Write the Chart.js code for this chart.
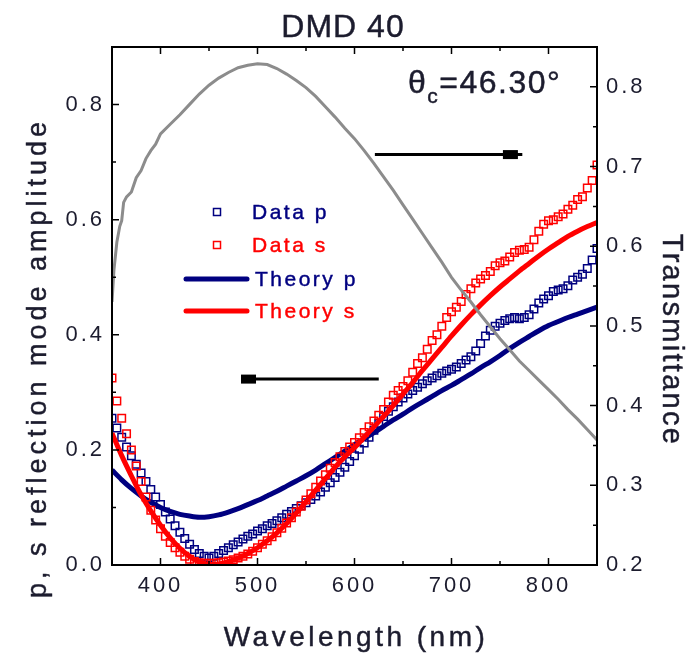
<!DOCTYPE html>
<html><head><meta charset="utf-8">
<script src="https://cdn.jsdelivr.net/npm/chart.js@4.4.1/dist/chart.umd.min.js"></script>
<style>html,body{margin:0;padding:0;background:#fff}</style>
</head><body>
<canvas id="c" width="691" height="657"></canvas>
<script>
// ---------- DATA ----------
const wavelengths5 = [350,355,360,365,370,375,380,385,390,395,400,405,410,415,420,425,430,435,440,445,450,455,460,465,470,475,480,485,490,495,500,505,510,515,520,525,530,535,540,545,550,555,560,565,570,575,580,585,590,595,600,605,610,615,620,625,630,635,640,645,650,655,660,665,670,675,680,685,690,695,700,705,710,715,720,725,730,735,740,745,750,755,760,765,770,775,780,785,790,795,800,805,810,815,820,825,830,835,840,845,850];
const dataP = [0.255,0.238,0.222,0.205,0.19,0.175,0.16,0.145,0.131,0.118,0.105,0.092,0.08,0.068,0.057,0.046,0.036,0.027,0.02,0.015,0.012,0.015,0.02,0.025,0.03,0.035,0.04,0.045,0.05,0.054,0.059,0.063,0.068,0.072,0.077,0.082,0.088,0.093,0.098,0.103,0.108,0.114,0.12,0.127,0.135,0.143,0.152,0.161,0.17,0.18,0.19,0.201,0.212,0.222,0.234,0.246,0.258,0.267,0.275,0.283,0.29,0.297,0.303,0.309,0.315,0.32,0.325,0.329,0.333,0.337,0.34,0.344,0.35,0.356,0.362,0.372,0.385,0.398,0.408,0.415,0.42,0.425,0.428,0.43,0.428,0.43,0.435,0.445,0.455,0.462,0.468,0.475,0.478,0.48,0.485,0.495,0.5,0.505,0.515,0.53,0.55];
const dataS = [0.325,0.285,0.255,0.228,0.2,0.172,0.145,0.118,0.095,0.078,0.063,0.05,0.039,0.03,0.022,0.015,0.01,0.006,0.004,0.003,0.003,0.003,0.004,0.005,0.007,0.009,0.012,0.015,0.019,0.024,0.03,0.036,0.042,0.049,0.056,0.064,0.073,0.082,0.092,0.102,0.113,0.124,0.135,0.146,0.157,0.168,0.178,0.188,0.197,0.205,0.213,0.221,0.23,0.24,0.25,0.26,0.27,0.283,0.295,0.303,0.31,0.32,0.335,0.35,0.36,0.375,0.39,0.4,0.415,0.43,0.44,0.448,0.458,0.47,0.48,0.49,0.497,0.503,0.51,0.52,0.525,0.528,0.535,0.543,0.547,0.548,0.552,0.565,0.58,0.592,0.598,0.6,0.605,0.61,0.618,0.625,0.635,0.64,0.655,0.668,0.695];

const wavelengths10 = [350,360,370,380,390,400,410,420,430,440,450,460,470,480,490,500,510,520,530,540,550,560,570,580,590,600,610,620,630,640,650,660,670,680,690,700,710,720,730,740,750,760,770,780,790,800,810,820,830,840,850];
const theoryP = [0.165,0.148,0.133,0.120,0.109,0.100,0.093,0.088,0.085,0.083,0.084,0.087,0.092,0.098,0.105,0.112,0.120,0.128,0.137,0.146,0.155,0.165,0.176,0.187,0.198,0.209,0.220,0.230,0.241,0.252,0.262,0.273,0.283,0.293,0.303,0.312,0.322,0.332,0.343,0.353,0.364,0.376,0.387,0.397,0.407,0.416,0.423,0.430,0.436,0.442,0.448];
const theoryS = [0.229,0.19,0.155,0.122,0.094,0.069,0.047,0.029,0.015,0.005,0.001,0.002,0.006,0.012,0.02,0.03,0.042,0.056,0.072,0.09,0.11,0.13,0.15,0.17,0.188,0.204,0.222,0.24,0.258,0.277,0.297,0.317,0.338,0.358,0.378,0.398,0.417,0.435,0.452,0.468,0.483,0.497,0.511,0.524,0.537,0.549,0.56,0.571,0.58,0.588,0.595];

const transWavelengths = [350,352,355,358,360,362,365,370,375,380,385,390,395,400,410,420,430,440,450,460,470,480,490,500,510,520,530,540,550,560,570,580,590,600,610,620,630,640,650,660,670,680,690,700,710,720,730,740,750,760,770,780,790,800,810,820,830,840,850];
const transmittance = [0.53,0.57,0.605,0.625,0.632,0.655,0.662,0.668,0.686,0.695,0.71,0.72,0.728,0.741,0.753,0.765,0.778,0.791,0.802,0.811,0.818,0.824,0.827,0.829,0.828,0.823,0.816,0.808,0.799,0.788,0.775,0.762,0.748,0.735,0.72,0.704,0.687,0.67,0.652,0.634,0.616,0.598,0.58,0.561,0.545,0.53,0.514,0.499,0.484,0.47,0.456,0.444,0.432,0.42,0.408,0.395,0.383,0.37,0.357];

const xMajorTicks = [400,500,600,700,800];
const xMinorTicks = [450,550,650,750];
const yMajorTicks = [0,0.2,0.4,0.6,0.8];
const yMinorTicks = [0.1,0.3,0.5,0.7];
const y2MajorTicks = [0.2,0.3,0.4,0.5,0.6,0.7,0.8];
const y2MinorTicks = [0.25,0.35,0.45,0.55,0.65,0.75];

// ---------- STYLE ----------
const FONT = '"Liberation Sans", Arial, Helvetica, sans-serif';
const TEXT = '#1c1c2e';
const NAVY = '#000080';
const RED = '#ff0000';
const GRAY = '#8c8c8c';

const toXY = (xs, ys) => xs.map((x, i) => ({x: x, y: ys[i]}));

function txt(ctx, s, x, y) {
  ctx.fillText(s, x, y);
  ctx.lineWidth = 0.45;
  ctx.strokeStyle = ctx.fillStyle;
  ctx.strokeText(s, x, y);
}

const decor = {
  id: 'decor',
  beforeDraw(chart) { chart.ctx.letterSpacing = '3px'; },
  afterDraw(chart) {
    const ctx = chart.ctx, a = chart.chartArea, sx = chart.scales.x, sy = chart.scales.y, sy2 = chart.scales.y2;
    ctx.save();
    ctx.letterSpacing = '0px';
    // ticks (inward)
    ctx.strokeStyle = '#000';
    ctx.lineWidth = 1.5;
    ctx.beginPath();
    const xt = (v, L) => { const p = sx.getPixelForValue(v); ctx.moveTo(p, a.bottom); ctx.lineTo(p, a.bottom - L); ctx.moveTo(p, a.top); ctx.lineTo(p, a.top + L); };
    xMajorTicks.forEach(v => xt(v, 7)); xMinorTicks.forEach(v => xt(v, 4));
    const yt = (v, L) => { const p = sy.getPixelForValue(v); ctx.moveTo(a.left, p); ctx.lineTo(a.left + L, p); };
    yMajorTicks.forEach(v => yt(v, 7)); yMinorTicks.forEach(v => yt(v, 4));
    const y2t = (v, L) => { const p = sy2.getPixelForValue(v); ctx.moveTo(a.right, p); ctx.lineTo(a.right - L, p); };
    y2MajorTicks.forEach(v => y2t(v, 7)); y2MinorTicks.forEach(v => y2t(v, 4));
    ctx.stroke();
    // frame
    ctx.lineWidth = 2;
    ctx.strokeRect(a.left, a.top, a.right - a.left, a.bottom - a.top);

    // arrows
    ctx.fillStyle = '#000';
    ctx.strokeStyle = '#000';
    ctx.lineWidth = 3;
    let yA = sy2.getPixelForValue(0.715);
    let x1 = sx.getPixelForValue(621), x2 = sx.getPixelForValue(773);
    ctx.beginPath(); ctx.moveTo(x1, yA); ctx.lineTo(x2, yA); ctx.stroke();
    let hx = sx.getPixelForValue(753);
    ctx.fillRect(hx, yA - 4.5, 15, 9);
    yA = sy.getPixelForValue(0.323);
    x1 = sx.getPixelForValue(483); x2 = sx.getPixelForValue(625);
    ctx.beginPath(); ctx.moveTo(x1, yA); ctx.lineTo(x2, yA); ctx.stroke();
    hx = sx.getPixelForValue(483);
    ctx.fillRect(hx, yA - 4.5, 15, 9);

    // texts
    ctx.textBaseline = 'alphabetic';
    ctx.fillStyle = TEXT;
    ctx.textAlign = 'center';
    ctx.font = '32px ' + FONT;
    ctx.letterSpacing = '1px';
    txt(ctx, 'DMD 40', 343, 37);
    ctx.font = '28px ' + FONT;
    ctx.letterSpacing = '3.5px';
    txt(ctx, 'Wavelength (nm)', 356, 646);
    // left title
    ctx.save();
    ctx.translate(46, 358);
    ctx.rotate(-Math.PI / 2);
    ctx.font = '27px ' + FONT;
    ctx.letterSpacing = '4px';
    txt(ctx, 'p, s reflection mode amplitude', 0, 0);
    ctx.restore();
    // right title
    ctx.save();
    ctx.translate(663, 340);
    ctx.rotate(Math.PI / 2);
    ctx.font = '29px ' + FONT;
    ctx.letterSpacing = '2.3px';
    txt(ctx, 'Transmittance', 0, 0);
    ctx.restore();

    // theta annotation
    ctx.textAlign = 'left';
    ctx.letterSpacing = '1.5px';
    ctx.font = '32px ' + FONT;
    let tx = 408;
    txt(ctx, '\u03b8', tx, 93); tx += ctx.measureText('\u03b8').width;
    ctx.font = '21px ' + FONT;
    txt(ctx, 'c', tx, 103); tx += ctx.measureText('c').width;
    ctx.font = '32px ' + FONT;
    txt(ctx, '=46.30\u00b0', tx, 93);

    // legend
    ctx.font = '21px ' + FONT;
    ctx.letterSpacing = '2.5px';
    ctx.lineWidth = 1.5;
    ctx.strokeStyle = NAVY; ctx.strokeRect(213.5, 208.5, 7, 7);
    ctx.strokeStyle = RED; ctx.strokeRect(213.5, 241.5, 7, 7);
    ctx.fillStyle = NAVY; txt(ctx, 'Data p', 252, 219);
    ctx.fillStyle = RED; txt(ctx, 'Data s', 252, 252);
    ctx.lineWidth = 5; ctx.lineCap = 'round';
    ctx.strokeStyle = NAVY; ctx.beginPath(); ctx.moveTo(186, 279); ctx.lineTo(247, 279); ctx.stroke();
    ctx.strokeStyle = RED; ctx.beginPath(); ctx.moveTo(186, 311); ctx.lineTo(247, 311); ctx.stroke();
    ctx.fillStyle = NAVY; txt(ctx, 'Theory p', 255, 286);
    ctx.fillStyle = RED; txt(ctx, 'Theory s', 255, 318);
    ctx.restore();
  }
};

const tickFont = {family: FONT, size: 22};

new Chart(document.getElementById('c'), {
  type: 'scatter',
  data: {
    datasets: [
      {label: 'Transmittance', data: toXY(transWavelengths, transmittance), yAxisID: 'y2', showLine: true, borderColor: GRAY, borderWidth: 3, pointRadius: 0, tension: 0, order: 0},
      {label: 'Theory s', data: toXY(wavelengths10, theoryS), yAxisID: 'y', showLine: true, borderColor: RED, borderWidth: 5, pointRadius: 0, tension: 0.3, order: 1},
      {label: 'Data s', data: toXY(wavelengths5, dataS), yAxisID: 'y', showLine: false, pointStyle: 'rect', pointRadius: 5.3, pointBorderWidth: 1.5, borderColor: RED, pointBorderColor: RED, pointBackgroundColor: 'rgba(255,255,255,0)', order: 2},
      {label: 'Theory p', data: toXY(wavelengths10, theoryP), yAxisID: 'y', showLine: true, borderColor: NAVY, borderWidth: 5, pointRadius: 0, tension: 0.3, order: 3},
      {label: 'Data p', data: toXY(wavelengths5, dataP), yAxisID: 'y', showLine: false, pointStyle: 'rect', pointRadius: 5.3, pointBorderWidth: 1.5, borderColor: NAVY, pointBorderColor: NAVY, pointBackgroundColor: 'rgba(255,255,255,0)', order: 4}
    ]
  },
  options: {
    responsive: false,
    animation: false,
    devicePixelRatio: 1,
    layout: {padding: {top: 47, left: 0, right: 0, bottom: 0}, autoPadding: false},
    plugins: {legend: {display: false}, tooltip: {enabled: false}, title: {display: false}},
    scales: {
      x: {
        type: 'linear', min: 350, max: 850,
        afterBuildTicks: s => { s.ticks = xMajorTicks.map(v => ({value: v})); },
        afterFit: s => { s.height = 92; },
        ticks: {font: tickFont, color: TEXT, padding: 8, callback: v => String(v), maxRotation: 0, autoSkip: false},
        grid: {display: false, drawTicks: false},
        border: {display: false}
      },
      y: {
        position: 'left', min: 0, max: 0.9,
        afterBuildTicks: s => { s.ticks = yMajorTicks.map(v => ({value: v})); },
        afterFit: s => { s.width = 112; },
        ticks: {font: tickFont, color: TEXT, padding: 7, callback: v => Number(v).toFixed(1), autoSkip: false},
        grid: {display: false, drawTicks: false},
        border: {display: false}
      },
      y2: {
        position: 'right', min: 0.2, max: 0.85,
        afterBuildTicks: s => { s.ticks = y2MajorTicks.map(v => ({value: v})); },
        afterFit: s => { s.width = 94; },
        ticks: {font: tickFont, color: TEXT, padding: 9, callback: v => Number(v).toFixed(1), autoSkip: false},
        grid: {display: false, drawTicks: false},
        border: {display: false}
      }
    }
  },
  plugins: [decor]
});
</script>
</body></html>
